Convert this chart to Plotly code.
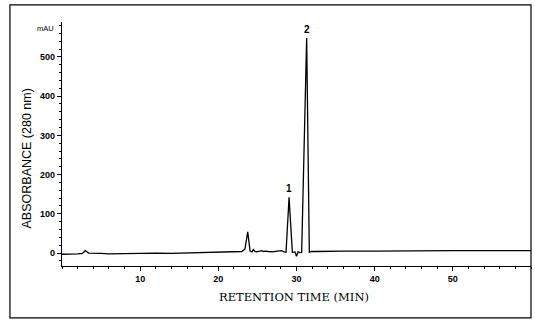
import plotly.graph_objects as go

# Chromatogram trace (minutes, mAU)
time_min = [0, 1, 2, 2.6, 3.0, 3.4, 4, 5, 6, 8, 10, 12, 14, 16, 18, 19, 20, 20.5, 21, 21.5, 22,
            22.5, 23.0, 23.4, 23.76, 24.06, 24.3, 24.48, 24.7, 24.9, 25.2, 25.55, 25.8, 25.97,
            26.4, 27.0, 27.5, 28.1, 28.4, 28.66, 29.05, 29.47, 29.8, 30.0, 30.2, 30.45, 30.66,
            31.3, 31.64, 31.9, 32.5, 34, 36, 40, 45, 50, 55, 60]
absorbance = [-3, -3, -2, -1, 6, 0, -1, -1, -2, -1, -1, 0, -1, 0, 0, 1, 1, 2, 2, 3, 2,
              3, 4, 10, 54, 5, 3, 9, 4, 3, 5, 6, 4, 5,
              4, 3, 5, 6, 3, 2, 142, 2, 3, -8, 3, 1, 2,
              548, 2, 4, 4, 5, 5, 5, 6, 6, 6, 6]

peak_labels = ["1", "2"]
peak_times = [29.05, 31.3]
peak_heights = [142, 548]

y_ticks = [0, 100, 200, 300, 400, 500]
x_ticks = [10, 20, 30, 40, 50]

fig = go.Figure()
fig.add_trace(go.Scatter(x=time_min, y=absorbance, mode="lines",
                         line=dict(color="black", width=1.3), hoverinfo="skip",
                         showlegend=False))

for lab, t, h in zip(peak_labels, peak_times, peak_heights):
    fig.add_annotation(x=t, y=h, text=lab, showarrow=False, yanchor="bottom", yshift=1,
                       font=dict(family="Liberation Sans", size=10, color="black", weight="bold"))

tickfont = dict(family="Liberation Sans", size=9, color="black", weight="bold")

fig.update_xaxes(range=[0, 60], tickvals=x_ticks, ticktext=[str(v) for v in x_ticks],
                 showline=True, linecolor="black", linewidth=1.2, ticks="outside",
                 ticklen=4, tickcolor="black", tickwidth=1, showgrid=False, zeroline=False,
                 tickfont=tickfont, minor=dict(dtick=2, ticks="outside", ticklen=2,
                                               tickcolor="black", showgrid=False))
fig.update_yaxes(range=[-33, 589], tickvals=y_ticks, ticktext=[str(v) for v in y_ticks],
                 showline=True, linecolor="black", linewidth=1.2, ticks="outside",
                 ticklen=4, tickcolor="black", tickwidth=1, showgrid=False, zeroline=False,
                 tickfont=tickfont, minor=dict(dtick=20, ticks="outside", ticklen=2,
                                               tickcolor="black", showgrid=False))

# axis titles and unit label
fig.add_annotation(xref="paper", yref="paper", x=-0.075, y=0.44, text="ABSORBANCE (280 nm)",
                   textangle=-90, showarrow=False, xanchor="center", yanchor="middle",
                   font=dict(family="Liberation Sans", size=12.5, color="black"))
fig.add_annotation(xref="paper", yref="paper", x=0.495, y=-0.128, text="RETENTION TIME (MIN)",
                   showarrow=False, xanchor="center", yanchor="middle",
                   font=dict(family="DejaVu Serif", size=11.5, color="black"))
fig.add_annotation(xref="paper", yref="paper", x=-0.012, y=0.975, text="mAU",
                   xanchor="right", yanchor="middle", showarrow=False,
                   font=dict(family="Liberation Sans", size=7.5, color="black"))

# outer frame
fig.add_shape(type="rect", xref="paper", yref="paper", x0=-0.111, x1=1.0, y0=-0.213, y1=1.07,
              line=dict(color="black", width=1.2))

fig.update_layout(width=535, height=320, margin=dict(l=62, r=4, t=22, b=54),
                  plot_bgcolor="white", paper_bgcolor="white")

fig.write_html("out.html", config={"displayModeBar": False},
               post_script="document.body.style.margin='0';document.body.style.padding='0';")
